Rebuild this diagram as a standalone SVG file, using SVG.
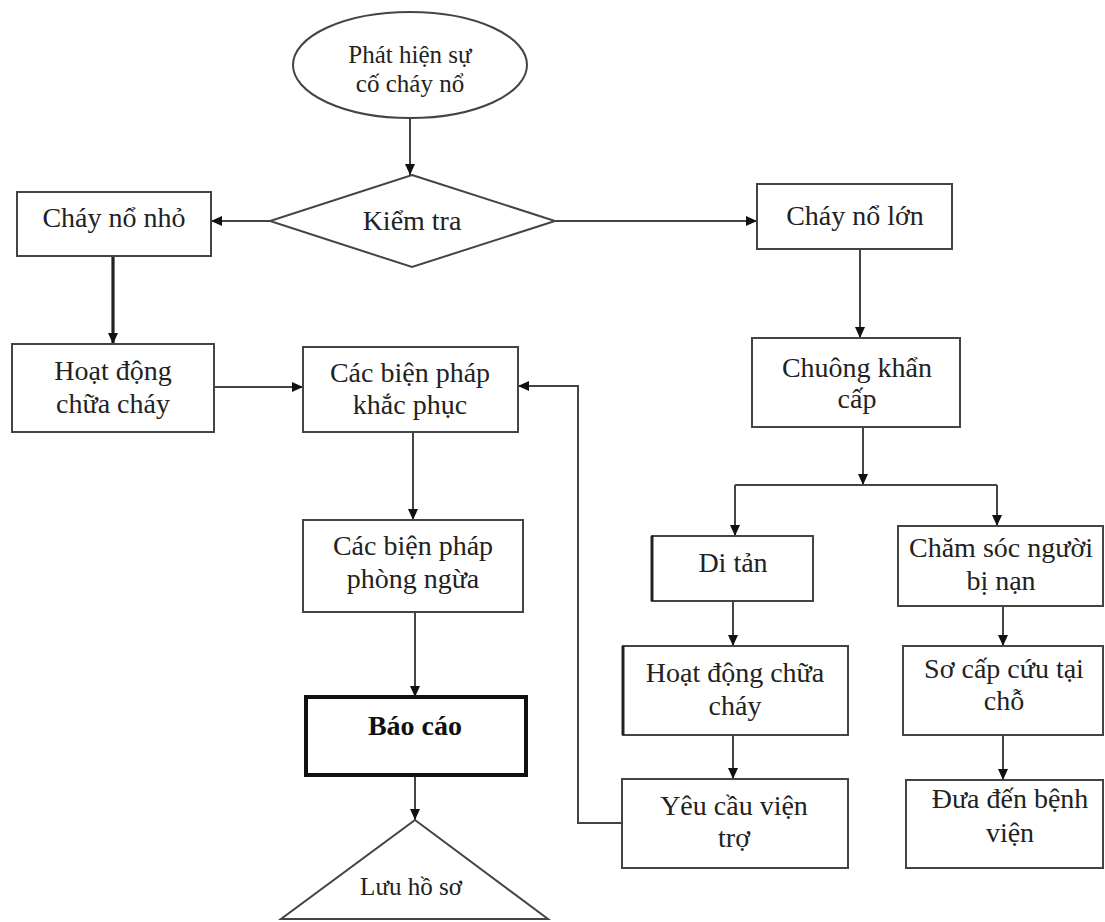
<svg xmlns="http://www.w3.org/2000/svg" width="1105" height="922" viewBox="0 0 1105 922">
  <style>
    .box { fill: #ffffff; stroke: #444; stroke-width: 2; }
    .bold-box { fill: #ffffff; stroke: #111; stroke-width: 4; }
    .edge { fill: none; stroke: #444; stroke-width: 2; }
    .thick { fill: none; stroke: #222; stroke-width: 3.2; }
    text { font-family: "Liberation Serif", "Times New Roman", serif; font-size: 28px; fill: #222; text-anchor: middle; }
    .small { font-size: 25px; }
    .bold { font-weight: bold; fill: #111; }
  </style>
  <defs>
    <marker id="arrow" markerUnits="userSpaceOnUse" markerWidth="12" markerHeight="12" viewBox="0 0 12 12" refX="11" refY="6" orient="auto">
      <path d="M0,1 L11,6 L0,11 Z" fill="#111"/>
    </marker>
  </defs>

  <rect width="1105" height="922" fill="#ffffff"/>

  <!-- connectors -->
  <g id="connectors">
    <line class="edge" x1="410" y1="118" x2="410" y2="175" marker-end="url(#arrow)"/>
    <line class="edge" x1="270" y1="221" x2="211" y2="221" marker-end="url(#arrow)"/>
    <line class="edge" x1="555" y1="221" x2="757" y2="221" marker-end="url(#arrow)"/>
    <line class="thick" x1="113" y1="256" x2="113" y2="344" marker-end="url(#arrow)"/>
    <line class="edge" x1="214" y1="387" x2="303" y2="387" marker-end="url(#arrow)"/>
    <polyline class="edge" points="622,823 578,823 578,386 518,386" marker-end="url(#arrow)"/>
    <line class="edge" x1="860" y1="249" x2="860" y2="338" marker-end="url(#arrow)"/>
    <line class="edge" x1="863" y1="427" x2="863" y2="485" marker-end="url(#arrow)"/>
    <line class="edge" x1="735" y1="485" x2="997" y2="485"/>
    <line class="edge" x1="735" y1="485" x2="735" y2="536" marker-end="url(#arrow)"/>
    <line class="edge" x1="997" y1="485" x2="997" y2="526" marker-end="url(#arrow)"/>
    <line class="edge" x1="733" y1="601" x2="733" y2="646" marker-end="url(#arrow)"/>
    <line class="edge" x1="1003" y1="606" x2="1003" y2="646" marker-end="url(#arrow)"/>
    <line class="edge" x1="733" y1="735" x2="733" y2="779" marker-end="url(#arrow)"/>
    <line class="edge" x1="1003" y1="735" x2="1003" y2="780" marker-end="url(#arrow)"/>
    <line class="edge" x1="413" y1="432" x2="413" y2="520" marker-end="url(#arrow)"/>
    <line class="edge" x1="415" y1="612" x2="415" y2="697" marker-end="url(#arrow)"/>
    <line class="edge" x1="415" y1="775" x2="415" y2="820" marker-end="url(#arrow)"/>
  </g>

  <!-- start -->
  <g id="phat-hien">
    <ellipse class="box" cx="410" cy="65" rx="117" ry="53"/>
    <text class="small" x="410" y="63">Phát hiện sự</text>
    <text class="small" x="410" y="92">cố cháy nổ</text>
  </g>

  <g id="kiem-tra">
    <polygon class="box" points="412,175 555,221 412,267 270,221"/>
    <text x="412" y="230">Kiểm tra</text>
  </g>

  <!-- small fire branch -->
  <g id="chay-no-nho">
    <rect class="box" x="17" y="192" width="194" height="64"/>
    <text x="114" y="227">Cháy nổ nhỏ</text>
  </g>

  <g id="hoat-dong-trai">
    <rect class="box" x="12" y="344" width="202" height="88"/>
    <text x="113" y="380">Hoạt động</text>
    <text x="113" y="413">chữa cháy</text>
  </g>

  <g id="khac-phuc">
    <rect class="box" x="303" y="347" width="215" height="85"/>
    <text x="410" y="382">Các biện pháp</text>
    <text x="410" y="414">khắc phục</text>
  </g>

  <g id="phong-ngua">
    <rect class="box" x="303" y="520" width="220" height="92"/>
    <text x="413" y="555">Các biện pháp</text>
    <text x="413" y="588">phòng ngừa</text>
  </g>

  <g id="bao-cao">
    <rect class="bold-box" x="306" y="697" width="220" height="78"/>
    <text class="bold" x="415" y="735">Báo cáo</text>
  </g>

  <g id="luu-ho-so">
    <polygon class="box" points="415,820 548,919 281,919"/>
    <text class="small" x="411" y="895">Lưu hồ sơ</text>
  </g>

  <!-- large fire branch -->
  <g id="chay-no-lon">
    <rect class="box" x="757" y="184" width="195" height="65"/>
    <text x="855" y="225">Cháy nổ lớn</text>
  </g>

  <g id="chuong-khan-cap">
    <rect class="box" x="752" y="338" width="208" height="89"/>
    <text x="857" y="377">Chuông khẩn</text>
    <text x="857" y="408">cấp</text>
  </g>

  <g id="di-tan">
    <rect class="box" x="652" y="536" width="161" height="65"/>
    <line x1="652" y1="536" x2="652" y2="601" stroke="#222" stroke-width="3"/>
    <text x="733" y="572">Di tản</text>
  </g>

  <g id="cham-soc">
    <rect class="box" x="898" y="526" width="205" height="80"/>
    <text x="1001" y="557">Chăm sóc người</text>
    <text x="1001" y="590">bị nạn</text>
  </g>

  <g id="hoat-dong-phai">
    <rect class="box" x="623" y="646" width="225" height="89"/>
    <line x1="623" y1="646" x2="623" y2="735" stroke="#222" stroke-width="3"/>
    <text x="735" y="682">Hoạt động chữa</text>
    <text x="735" y="715">cháy</text>
  </g>

  <g id="so-cap-cuu">
    <rect class="box" x="903" y="646" width="200" height="89"/>
    <text x="1004" y="678">Sơ cấp cứu tại</text>
    <text x="1004" y="710">chỗ</text>
  </g>

  <g id="yeu-cau-vien-tro">
    <rect class="box" x="622" y="779" width="226" height="89"/>
    <text x="734" y="815">Yêu cầu viện</text>
    <text x="734" y="847">trợ</text>
  </g>

  <g id="benh-vien">
    <rect class="box" x="906" y="780" width="197" height="88"/>
    <text x="1010" y="808">Đưa đến bệnh</text>
    <text x="1010" y="842">viện</text>
  </g>
</svg>
